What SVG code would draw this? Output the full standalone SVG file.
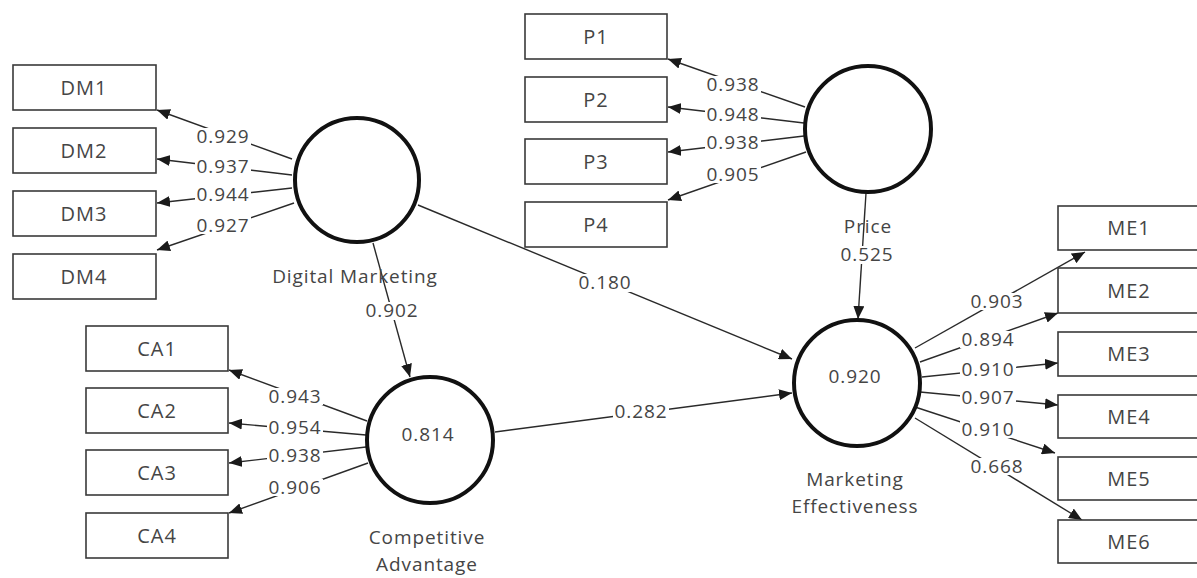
<svg xmlns="http://www.w3.org/2000/svg" width="1197" height="578" viewBox="0 0 1197 578">
<style>
.box{fill:#fff;stroke:#3a3a3a;stroke-width:1.6}
.lv{fill:#fff;stroke:#111;stroke-width:4}
.t{font-family:"Open Sans","Noto Sans",sans-serif;font-size:19px;fill:#454545;text-anchor:middle;letter-spacing:0.9px}
.bt{font-size:20px;letter-spacing:1px}
.c{stroke:#2a2a2a;stroke-width:1.4;fill:none;marker-end:url(#ah)}
.bg{fill:#fff}
</style>
<defs>
<marker id="ah" markerUnits="userSpaceOnUse" markerWidth="13" markerHeight="11" refX="13" refY="5.5" orient="auto">
<path d="M0,0 L13,5.5 L0,11 z" fill="#1a1a1a"/>
</marker>
</defs>
<rect width="1197" height="578" fill="#fff"/>
<g id="connectors">
<line class="c" x1="292" y1="159" x2="157" y2="110"/>
<line class="c" x1="292" y1="175" x2="157" y2="159"/>
<line class="c" x1="292" y1="188" x2="157" y2="203"/>
<line class="c" x1="294" y1="203" x2="157" y2="250"/>
<line class="c" x1="805" y1="107" x2="668" y2="59"/>
<line class="c" x1="804" y1="123" x2="668" y2="107"/>
<line class="c" x1="804" y1="136" x2="668" y2="152"/>
<line class="c" x1="806" y1="152" x2="668" y2="200"/>
<line class="c" x1="367" y1="421" x2="229" y2="370"/>
<line class="c" x1="366" y1="435" x2="229" y2="423"/>
<line class="c" x1="366" y1="447" x2="229" y2="463"/>
<line class="c" x1="368" y1="463" x2="229" y2="513"/>
<line class="c" x1="915" y1="348" x2="1085" y2="252"/>
<line class="c" x1="920" y1="362" x2="1058" y2="313"/>
<line class="c" x1="922" y1="377" x2="1058" y2="363"/>
<line class="c" x1="920" y1="392" x2="1058" y2="405"/>
<line class="c" x1="915" y1="407" x2="1055" y2="453"/>
<line class="c" x1="915" y1="418" x2="1082" y2="520"/>
<line class="c" x1="373" y1="243" x2="410" y2="377"/>
<line class="c" x1="418" y1="205" x2="792" y2="359"/>
<line class="c" x1="495" y1="432" x2="792" y2="393"/>
<line class="c" x1="866" y1="193" x2="858" y2="319"/>
<g>
<rect class="bg" x="195" y="128" width="56" height="17"/>
<rect class="bg" x="195" y="158" width="56" height="17"/>
<rect class="bg" x="195" y="186" width="56" height="17"/>
<rect class="bg" x="195" y="217" width="56" height="17"/>
<rect class="bg" x="705" y="76" width="56" height="17"/>
<rect class="bg" x="705" y="106" width="56" height="17"/>
<rect class="bg" x="705" y="134" width="56" height="17"/>
<rect class="bg" x="705" y="166" width="56" height="17"/>
<rect class="bg" x="267" y="388" width="56" height="17"/>
<rect class="bg" x="267" y="419" width="56" height="17"/>
<rect class="bg" x="267" y="447" width="56" height="17"/>
<rect class="bg" x="267" y="479" width="56" height="17"/>
<rect class="bg" x="969" y="293" width="56" height="17"/>
<rect class="bg" x="960" y="331" width="56" height="17"/>
<rect class="bg" x="960" y="361" width="56" height="17"/>
<rect class="bg" x="960" y="389" width="56" height="17"/>
<rect class="bg" x="960" y="421" width="56" height="17"/>
<rect class="bg" x="969" y="458" width="56" height="17"/>
<rect class="bg" x="364" y="302" width="56" height="18"/>
<rect class="bg" x="577" y="274" width="56" height="18"/>
<rect class="bg" x="613" y="403" width="56" height="18"/>
<rect class="bg" x="839" y="246" width="56" height="18"/>
</g>
<g class="t">
<text x="223" y="143">0.929</text>
<text x="223" y="173">0.937</text>
<text x="223" y="201">0.944</text>
<text x="223" y="232">0.927</text>
<text x="733" y="91">0.938</text>
<text x="733" y="121">0.948</text>
<text x="733" y="149">0.938</text>
<text x="733" y="181">0.905</text>
<text x="295" y="403">0.943</text>
<text x="295" y="434">0.954</text>
<text x="295" y="462">0.938</text>
<text x="295" y="494">0.906</text>
<text x="997" y="308">0.903</text>
<text x="988" y="346">0.894</text>
<text x="988" y="376">0.910</text>
<text x="988" y="404">0.907</text>
<text x="988" y="436">0.910</text>
<text x="997" y="473">0.668</text>
<text x="392" y="317">0.902</text>
<text x="605" y="289">0.180</text>
<text x="641" y="418">0.282</text>
<text x="867" y="261">0.525</text>
</g>
</g>
<g id="DM1"><rect class="box" x="13" y="65" width="143" height="45"/><text class="t bt" x="84" y="95">DM1</text></g>
<g id="DM2"><rect class="box" x="13" y="128" width="143" height="45"/><text class="t bt" x="84" y="158">DM2</text></g>
<g id="DM3"><rect class="box" x="13" y="191" width="143" height="45"/><text class="t bt" x="84" y="221">DM3</text></g>
<g id="DM4"><rect class="box" x="13" y="254" width="143" height="45"/><text class="t bt" x="84" y="284">DM4</text></g>
<g id="P1"><rect class="box" x="525" y="14" width="142" height="45"/><text class="t bt" x="596" y="44">P1</text></g>
<g id="P2"><rect class="box" x="525" y="77" width="142" height="45"/><text class="t bt" x="596" y="107">P2</text></g>
<g id="P3"><rect class="box" x="525" y="139" width="142" height="45"/><text class="t bt" x="596" y="169">P3</text></g>
<g id="P4"><rect class="box" x="525" y="202" width="142" height="45"/><text class="t bt" x="596" y="232">P4</text></g>
<g id="CA1"><rect class="box" x="86" y="326" width="142" height="45"/><text class="t bt" x="157" y="356">CA1</text></g>
<g id="CA2"><rect class="box" x="86" y="388" width="142" height="45"/><text class="t bt" x="157" y="418">CA2</text></g>
<g id="CA3"><rect class="box" x="86" y="450" width="142" height="45"/><text class="t bt" x="157" y="480">CA3</text></g>
<g id="CA4"><rect class="box" x="86" y="513" width="142" height="45"/><text class="t bt" x="157" y="543">CA4</text></g>
<g id="ME1"><rect class="box" x="1058" y="206" width="143" height="44"/><text class="t bt" x="1129" y="235">ME1</text></g>
<g id="ME2"><rect class="box" x="1058" y="268" width="143" height="45"/><text class="t bt" x="1129" y="298">ME2</text></g>
<g id="ME3"><rect class="box" x="1058" y="332" width="143" height="44"/><text class="t bt" x="1129" y="361">ME3</text></g>
<g id="ME4"><rect class="box" x="1058" y="395" width="143" height="43"/><text class="t bt" x="1129" y="424">ME4</text></g>
<g id="ME5"><rect class="box" x="1058" y="457" width="143" height="43"/><text class="t bt" x="1129" y="486">ME5</text></g>
<g id="ME6"><rect class="box" x="1058" y="520" width="143" height="43"/><text class="t bt" x="1129" y="549">ME6</text></g>
<g id="DigitalMarketing"><circle class="lv" cx="357" cy="180" r="62"/><text class="t" x="355" y="283">Digital Marketing</text></g>
<g id="Price"><circle class="lv" cx="868" cy="129" r="63"/><text class="t" x="868" y="233">Price</text></g>
<g id="CompetitiveAdvantage"><circle class="lv" cx="430" cy="440" r="63"/><text class="t" x="428" y="441">0.814</text><text class="t" x="427" y="544">Competitive</text><text class="t" x="427" y="571">Advantage</text></g>
<g id="MarketingEffectiveness"><circle class="lv" cx="857" cy="383" r="63"/><text class="t" x="855" y="383">0.920</text><text class="t" x="855" y="486">Marketing</text><text class="t" x="855" y="513">Effectiveness</text></g>
</svg>
